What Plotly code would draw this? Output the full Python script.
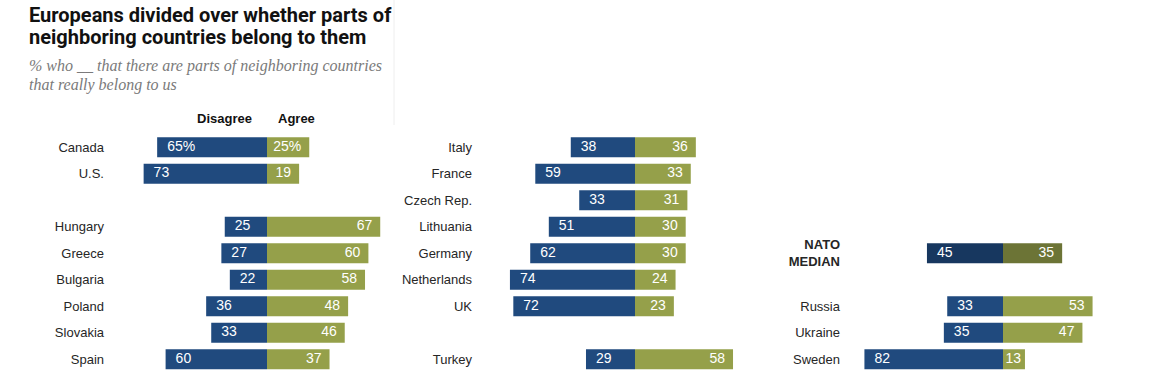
import plotly.graph_objects as go

# ---------------- data ----------------
left_groups = [["Canada", "U.S."],
               ["Hungary", "Greece", "Bulgaria", "Poland", "Slovakia", "Spain"]]
left_disagree = [65, 73, 25, 27, 22, 36, 33, 60]
left_agree = [25, 19, 67, 60, 58, 48, 46, 37]

mid_groups = [["Italy", "France", "Czech Rep.", "Lithuania", "Germany", "Netherlands", "UK"],
              ["Turkey"]]
mid_disagree = [38, 59, 33, 51, 62, 74, 72, 29]
mid_agree = [36, 33, 31, 30, 30, 24, 23, 58]

right_groups = [["NATO MEDIAN"], ["Russia", "Ukraine", "Sweden"]]
right_disagree = [45, 33, 35, 82]
right_agree = [35, 53, 47, 13]

# ---------------- styling ----------------
W, H = 1160, 375
BLUE = "#204a7e"
OLIVE = "#95a04a"
BLUE_DARK = "#17375f"
OLIVE_DARK = "#6c7436"
XR = 85                      # half range of each panel in % units
PX_PER_UNIT = 1.69
ZEROS_PX = [267, 635, 1003]  # where zero sits for each panel
NSLOTS = 9
SLOT0_PX = 147.3
SLOT_PX = 26.5
LABEL_FONT = dict(family="Liberation Sans, Arial, sans-serif", size=13, color="#262626")
VAL_FONT = dict(family="Liberation Sans, Arial, sans-serif", size=14, color="white")


def slots_for(groups):
    total = sum(len(g) for g in groups) + (len(groups) - 1)
    s = NSLOTS - total
    out = []
    for g in groups:
        for _ in g:
            out.append(s)
            s += 1
        s += 1
    return out


fig = go.Figure()
panels = [(left_groups, left_disagree, left_agree),
          (mid_groups, mid_disagree, mid_agree),
          (right_groups, right_disagree, right_agree)]

half_w = XR * PX_PER_UNIT
ydom_top = 1 - (SLOT0_PX - 0.5 * SLOT_PX) / H
ydom_bot = 1 - (SLOT0_PX + (NSLOTS - 0.5) * SLOT_PX) / H

for i, (groups, dis, agr) in enumerate(panels):
    names = [n for g in groups for n in g]
    ys = slots_for(groups)
    xa = "x" if i == 0 else f"x{i+1}"
    ya = "y" if i == 0 else f"y{i+1}"
    is_median = [n == "NATO MEDIAN" for n in names]
    bcol = [BLUE_DARK if m else BLUE for m in is_median]
    ocol = [OLIVE_DARK if m else OLIVE for m in is_median]

    fig.add_trace(go.Bar(y=ys, x=dis, base=[-v for v in dis], orientation="h",
                         marker=dict(color=bcol, line=dict(width=0)), width=0.76,
                         xaxis=xa, yaxis=ya, hoverinfo="skip", showlegend=False))
    fig.add_trace(go.Bar(y=ys, x=agr, base=[0] * len(agr), orientation="h",
                         marker=dict(color=ocol, line=dict(width=0)), width=0.76,
                         xaxis=xa, yaxis=ya, hoverinfo="skip", showlegend=False))
    # value labels
    dtext = [f"{v}%" if (i == 0 and k == 0) else str(v) for k, v in enumerate(dis)]
    atext = [f"{v}%" if (i == 0 and k == 0) else str(v) for k, v in enumerate(agr)]
    fig.add_trace(go.Scatter(y=ys, x=[-v + 10 / PX_PER_UNIT for v in dis], mode="text", text=dtext,
                             textposition="middle right", textfont=VAL_FONT,
                             xaxis=xa, yaxis=ya, hoverinfo="skip", showlegend=False,
                             cliponaxis=False))
    fig.add_trace(go.Scatter(y=ys, x=[max(v - 8 / PX_PER_UNIT, 18 / PX_PER_UNIT) for v in agr],
                             mode="text", text=atext,
                             textposition="middle left", textfont=VAL_FONT,
                             xaxis=xa, yaxis=ya, hoverinfo="skip", showlegend=False,
                             cliponaxis=False))

    z = ZEROS_PX[i]
    xdom = [(z - half_w) / W, (z + half_w) / W]
    ticktext = ["<b>NATO<br>MEDIAN</b>" if n == "NATO MEDIAN" else n for n in names]
    fig.update_layout(**{
        ("xaxis" if i == 0 else f"xaxis{i+1}"): dict(
            domain=xdom, range=[-XR, XR], visible=False, fixedrange=True,
            anchor=ya),
        ("yaxis" if i == 0 else f"yaxis{i+1}"): dict(
            domain=[ydom_bot, ydom_top], range=[NSLOTS - 0.5, -0.5],
            anchor="free", position=(z - 163) / W,
            tickvals=ys, ticktext=ticktext, ticks="", showline=False,
            showgrid=False, zeroline=False, tickfont=LABEL_FONT,
            ticklabelstandoff=0, fixedrange=True),
    })

# column headers
HFONT = dict(family="Liberation Sans, Arial, sans-serif", size=13, color="#111111")
fig.add_annotation(xref="x", yref="paper", x=-13 / PX_PER_UNIT, y=1 - 118 / H,
                   text="<b>Disagree</b>", showarrow=False, xanchor="right", yanchor="middle",
                   font=HFONT)
fig.add_annotation(xref="x", yref="paper", x=9 / PX_PER_UNIT, y=1 - 118 / H,
                   text="<b>Agree</b>", showarrow=False, xanchor="left", yanchor="middle",
                   font=HFONT)

# title and subtitle
TFONT = dict(family="Roboto, Liberation Sans, sans-serif", size=20, color="#111111")
fig.add_annotation(xref="paper", yref="paper", x=27 / W, y=1 - 15 / H, xanchor="left",
                   yanchor="middle", showarrow=False,
                   text="<b>Europeans divided over whether parts of</b>", font=TFONT)
fig.add_annotation(xref="paper", yref="paper", x=27 / W, y=1 - 37 / H, xanchor="left",
                   yanchor="middle", showarrow=False,
                   text="<b>neighboring countries belong to them</b>", font=TFONT)
SFONT = dict(family="Liberation Serif, Times New Roman, serif", size=16, color="#7a7a7a")
fig.add_annotation(xref="paper", yref="paper", x=27 / W, y=1 - 66 / H, xanchor="left",
                   yanchor="middle", showarrow=False,
                   text="<i>% who __ that there are parts of neighboring countries</i>", font=SFONT)
fig.add_annotation(xref="paper", yref="paper", x=27 / W, y=1 - 85 / H, xanchor="left",
                   yanchor="middle", showarrow=False,
                   text="<i>that really belong to us</i>", font=SFONT)

fig.add_shape(type="line", xref="paper", yref="paper", x0=394 / W, x1=394 / W,
              y0=1, y1=1 - 125 / H, line=dict(color="#eeeeee", width=1))

fig.update_layout(width=W, height=H, margin=dict(l=0, r=0, t=0, b=0),
                  paper_bgcolor="white", plot_bgcolor="rgba(0,0,0,0)",
                  barmode="overlay", showlegend=False)

fig.write_html("out.html", config={"displayModeBar": False},
               post_script="document.body.style.margin='0';")
